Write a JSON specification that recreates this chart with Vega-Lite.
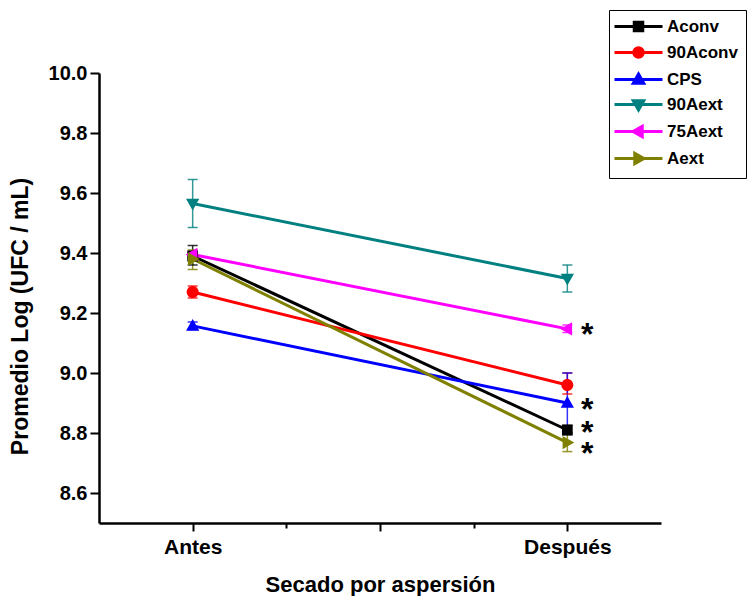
{
  "$schema": "https://vega.github.io/schema/vega-lite/v6.json",
  "width": 562,
  "height": 450,
  "autosize": {"type": "none"},
  "padding": {"left": 99, "top": 73, "right": 91, "bottom": 73},
  "background": "white",
  "config": {
    "font": "Liberation Sans",
    "view": {"stroke": null},
    "axis": {"grid": false, "domainColor": "black", "domainWidth": 2.5, "tickColor": "black", "tickWidth": 2, "labelColor": "black", "titleColor": "black", "labelFontWeight": "bold", "titleFontWeight": "bold", "labelFont": "Liberation Sans", "titleFont": "Liberation Sans"}
  },
  "datasets": {
    "medias": [
      {"serie": "Aconv", "fase": 1, "media": 9.39, "lo": 9.36, "hi": 9.425},
      {"serie": "90Aconv", "fase": 1, "media": 9.27, "lo": 9.25, "hi": 9.29},
      {"serie": "CPS", "fase": 1, "media": 9.157, "lo": 9.145, "hi": 9.17},
      {"serie": "90Aext", "fase": 1, "media": 9.565, "lo": 9.485, "hi": 9.645},
      {"serie": "75Aext", "fase": 1, "media": 9.395, "lo": 9.385, "hi": 9.405},
      {"serie": "Aext", "fase": 1, "media": 9.38, "lo": 9.345, "hi": 9.41},
      {"serie": "Aconv", "fase": 2, "media": 8.81, "lo": 8.795, "hi": 8.825},
      {"serie": "90Aconv", "fase": 2, "media": 8.96, "lo": 8.93, "hi": 9.0},
      {"serie": "CPS", "fase": 2, "media": 8.9, "lo": 8.8, "hi": 9.0},
      {"serie": "90Aext", "fase": 2, "media": 9.315, "lo": 9.27, "hi": 9.36},
      {"serie": "75Aext", "fase": 2, "media": 9.147, "lo": 9.135, "hi": 9.16},
      {"serie": "Aext", "fase": 2, "media": 8.768, "lo": 8.738, "hi": 8.8}
    ],
    "asteriscos": [
      {"serie": "75Aext", "fase": 2, "pos": 9.15, "texto": "*"},
      {"serie": "CPS", "fase": 2, "pos": 8.9, "texto": "*"},
      {"serie": "Aconv", "fase": 2, "pos": 8.823, "texto": "*"},
      {"serie": "Aext", "fase": 2, "pos": 8.753, "texto": "*"}
    ]
  },
  "data": {"name": "medias"},
  "encoding": {
    "x": {"field": "fase", "type": "quantitative", "scale": {"domain": [0.75, 2.25], "nice": false, "zero": false},
      "axis": {"title": "Secado por aspersión", "values": [1, 1.25, 1.5, 1.75, 2],
        "labelExpr": "datum.value == 1 ? 'Antes' : datum.value == 2 ? 'Después' : ''",
        "tickSize": {"condition": {"test": "datum.value == 1.25 || datum.value == 1.75", "value": 5}, "value": 8},
        "labelFontSize": 21, "titleFontSize": 22, "labelPadding": 5, "titleY": 61, "titleBaseline": "middle"}},
    "color": {"field": "serie", "type": "nominal",
      "scale": {"domain": ["Aconv", "90Aconv", "CPS", "90Aext", "75Aext", "Aext"],
        "range": ["#000000", "#ff0000", "#0000ff", "#008080", "#ff00ff", "#808000"]},
      "legend": {"title": null, "orient": "none", "legendX": 510, "legendY": -63,
        "labelFontSize": 17, "labelFontWeight": "bold", "labelColor": "black", "labelFont": "Liberation Sans",
        "symbolSize": 100, "symbolStrokeWidth": 3, "symbolOpacity": 1, "symbolOffset": 13, "labelOffset": 20,
        "rowPadding": 4, "padding": 8, "strokeColor": "black", "fillColor": "white"}}
  },
  "layer": [
    {
      "mark": {"type": "rule", "strokeWidth": 1.5, "opacity": 0.8},
      "encoding": {
        "y": {"field": "lo", "type": "quantitative", "scale": {"domain": [8.5, 10.0], "nice": false, "zero": false},
          "axis": {"title": "Promedio Log (UFC / mL)", "values": [8.6, 8.7, 8.8, 8.9, 9.0, 9.1, 9.2, 9.3, 9.4, 9.5, 9.6, 9.7, 9.8, 9.9, 10.0],
            "labelExpr": "round(datum.value * 10) % 2 == 0 ? format(datum.value, '.1f') : ''",
            "tickSize": {"condition": {"test": "round(datum.value * 10) % 2 == 1", "value": 5}, "value": 9},
            "labelFontSize": 20, "titleFontSize": 23, "labelPadding": 3,
            "titleX": -79, "titleY": 243, "titleBaseline": "middle", "titleAlign": "center", "titleAngle": -90}},
        "y2": {"field": "hi"}
      }
    },
    {
      "mark": {"type": "tick", "orient": "horizontal", "size": 10, "thickness": 1.5, "opacity": 0.8},
      "encoding": {"y": {"field": "lo", "type": "quantitative"}}
    },
    {
      "mark": {"type": "tick", "orient": "horizontal", "size": 10, "thickness": 1.5, "opacity": 0.8},
      "encoding": {"y": {"field": "hi", "type": "quantitative"}}
    },
    {
      "mark": {"type": "line", "strokeWidth": 3},
      "encoding": {"y": {"field": "media", "type": "quantitative"}}
    },
    {
      "mark": {"type": "point", "filled": true, "size": 160, "opacity": 1},
      "encoding": {
        "y": {"field": "media", "type": "quantitative"},
        "shape": {"field": "serie", "type": "nominal",
          "scale": {"domain": ["Aconv", "90Aconv", "CPS", "90Aext", "75Aext", "Aext"],
            "range": [
              "M-4.8,0H4.8M-0.85,-0.85H0.85V0.85H-0.85Z",
              "M-4.8,0H4.8M0.95,0A0.95,0.95,0,1,1,-0.95,0A0.95,0.95,0,1,1,0.95,0Z",
              "M-4.8,0H4.8M0,-1.1L1.05,0.75H-1.05Z",
              "M-4.8,0H4.8M0,1.1L1.05,-0.75H-1.05Z",
              "M-4.8,0H4.8M-1.1,0L0.75,-1.05V1.05Z",
              "M-4.8,0H4.8M1.1,0L-0.75,-1.05V1.05Z"
            ]},
          "legend": null}
      }
    },
    {
      "data": {"name": "asteriscos"},
      "mark": {"type": "text", "fontSize": 32, "fontWeight": "bold", "color": "black", "dx": 20, "dy": 17, "baseline": "alphabetic", "align": "center", "font": "Liberation Sans"},
      "encoding": {
        "y": {"field": "pos", "type": "quantitative"},
        "text": {"field": "texto"},
        "color": {"value": "black"}
      }
    }
  ]
}
